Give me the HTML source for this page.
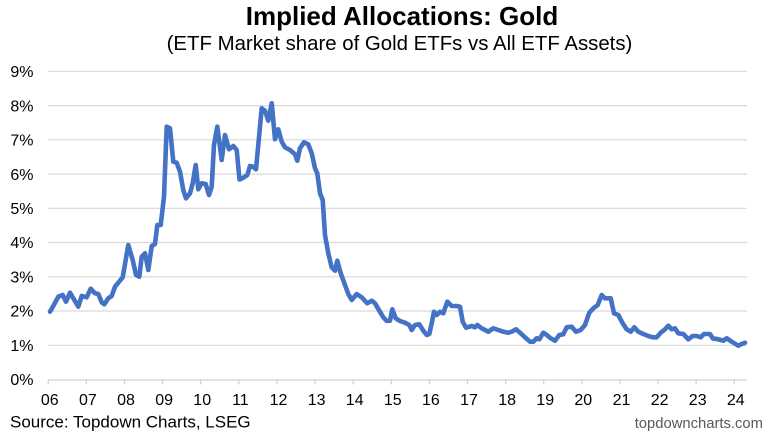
<!DOCTYPE html>
<html><head><meta charset="utf-8"><style>
html,body{margin:0;padding:0;background:#fff;}
svg{display:block;}
text{font-family:"Liberation Sans",Arial,sans-serif;}
</style></head><body>
<svg width="768" height="434" viewBox="0 0 768 434" xmlns="http://www.w3.org/2000/svg">
<rect width="768" height="434" fill="#fff"/>
<text x="402" y="25" font-size="26" font-weight="bold" text-anchor="middle" fill="#000">Implied Allocations: Gold</text>
<text x="399.5" y="50" font-size="20.4" text-anchor="middle" fill="#000">(ETF Market share of Gold ETFs vs All ETF Assets)</text>
<g stroke="#d9d9d9" stroke-width="1.2">
<line x1="48" x2="747" y1="345.3" y2="345.3"/>
<line x1="48" x2="747" y1="311" y2="311"/>
<line x1="48" x2="747" y1="276.8" y2="276.8"/>
<line x1="48" x2="747" y1="242.5" y2="242.5"/>
<line x1="48" x2="747" y1="208.3" y2="208.3"/>
<line x1="48" x2="747" y1="174.1" y2="174.1"/>
<line x1="48" x2="747" y1="139.8" y2="139.8"/>
<line x1="48" x2="747" y1="105.6" y2="105.6"/>
<line x1="48" x2="747" y1="71.3" y2="71.3"/>
</g>
<g stroke="#d0d0d0" stroke-width="1.2">
<line x1="48" x2="747" y1="380" y2="380"/>
<line x1="48.3" x2="48.3" y1="380" y2="384.5"/>
<line x1="86.4" x2="86.4" y1="380" y2="384.5"/>
<line x1="124.5" x2="124.5" y1="380" y2="384.5"/>
<line x1="162.6" x2="162.6" y1="380" y2="384.5"/>
<line x1="200.7" x2="200.7" y1="380" y2="384.5"/>
<line x1="238.9" x2="238.9" y1="380" y2="384.5"/>
<line x1="277" x2="277" y1="380" y2="384.5"/>
<line x1="315.1" x2="315.1" y1="380" y2="384.5"/>
<line x1="353.2" x2="353.2" y1="380" y2="384.5"/>
<line x1="391.3" x2="391.3" y1="380" y2="384.5"/>
<line x1="429.4" x2="429.4" y1="380" y2="384.5"/>
<line x1="467.5" x2="467.5" y1="380" y2="384.5"/>
<line x1="505.6" x2="505.6" y1="380" y2="384.5"/>
<line x1="543.7" x2="543.7" y1="380" y2="384.5"/>
<line x1="581.8" x2="581.8" y1="380" y2="384.5"/>
<line x1="620" x2="620" y1="380" y2="384.5"/>
<line x1="658.1" x2="658.1" y1="380" y2="384.5"/>
<line x1="696.2" x2="696.2" y1="380" y2="384.5"/>
<line x1="734.3" x2="734.3" y1="380" y2="384.5"/>
</g>
<g font-size="16" fill="#000" text-anchor="end">
<text x="33.5" y="385.2">0%</text>
<text x="33.5" y="351">1%</text>
<text x="33.5" y="316.7">2%</text>
<text x="33.5" y="282.5">3%</text>
<text x="33.5" y="248.2">4%</text>
<text x="33.5" y="214">5%</text>
<text x="33.5" y="179.8">6%</text>
<text x="33.5" y="145.5">7%</text>
<text x="33.5" y="111.3">8%</text>
<text x="33.5" y="77">9%</text>
</g>
<g font-size="16" fill="#000" text-anchor="middle">
<text x="49.8" y="405">06</text>
<text x="87.9" y="405">07</text>
<text x="126" y="405">08</text>
<text x="164.1" y="405">09</text>
<text x="202.2" y="405">10</text>
<text x="240.4" y="405">11</text>
<text x="278.5" y="405">12</text>
<text x="316.6" y="405">13</text>
<text x="354.7" y="405">14</text>
<text x="392.8" y="405">15</text>
<text x="430.9" y="405">16</text>
<text x="469" y="405">17</text>
<text x="507.1" y="405">18</text>
<text x="545.2" y="405">19</text>
<text x="583.3" y="405">20</text>
<text x="621.5" y="405">21</text>
<text x="659.6" y="405">22</text>
<text x="697.7" y="405">23</text>
<text x="735.8" y="405">24</text>
</g>
<polyline fill="none" stroke="#4472C4" stroke-width="4.6" stroke-linejoin="round" stroke-linecap="round" points="
50,311.7 53.3,306 58.3,296.7 62.7,295 66,301.7 70,292.7 78.3,306.7 81.7,296 86.7,297.3 90.7,288.7 95,293.3 98.3,294 101.7,302.3 104.3,304.3 108.3,298.3 111.7,296 115,286.7 118.3,282.7 122.7,277.3 128.3,245 132.7,260 136,275 139.3,276.7 141.7,256.7 145,253.3 148.3,270 151.7,246 155,244 157.3,225 160.7,225 164,196.7 166.7,126.7 170,128.3 173.3,161.7 176.7,162.7 180,171.7 183.3,190 186,198.3 190,193.3 192.7,183.3 195.7,165 198.3,189.3 201.7,183.3 205.7,184 209,195 211.7,186.7 214,145 217.3,126.7 221.7,160 225,135 229,149.3 233.3,146 236.7,150 239.5,179.5 244,177.3 247.3,175 250,166 253.3,166.7 256,169.3 261.7,108.3 265,110.7 268.3,120.7 271.7,103.3 275,139.3 278.3,129.3 281.7,141.7 285,147.3 290,150 295,154.3 297.3,160.7 300,148.3 304,142.3 308.3,144.3 311.7,153.3 315,168.3 317.3,173.3 320,193.3 322.7,200 325,235 328.3,253.3 331.7,267.3 335,270.7 337.3,260.7 340.7,273.3 345,285 348.3,294 351.7,300 356.7,294 361.7,297.3 367.3,303.3 371.7,300.7 375,303.3 379.3,310.7 383.3,317.3 386.7,321 390,320.7 392.3,309.3 395.7,318.3 400,321 405,322.7 409.3,325 411.7,330 415,325 419.3,324.3 423.3,330.7 426.7,335 429.3,334 431.7,323.3 434,311.7 436.7,315 440,311.7 443.3,313.3 447.3,301.7 451.7,306 456.7,306 460,306.7 462.7,321.7 466,327.7 471.7,326 475,327.3 477.3,325 481.7,328.3 488.3,331.7 493.3,328.3 498.3,330 503.3,331.7 508.3,332.7 511.7,331.7 516,329.3 520,332.7 525,337.3 530,341.7 533.3,341.7 536.7,338.3 539.3,339.3 543.3,332.7 546.7,335 550.7,338.3 555,340.7 559.3,335 563.3,334.3 566.7,327.3 571.7,326.7 576,331.7 580.7,330 585,325 589.3,312.7 593.3,308.3 597.7,305 601.7,295 605,298.3 610.7,298.3 614,313.3 618.3,315 622.7,323.3 626.7,329.3 630.7,331.7 634.3,327.3 638.3,331.7 643.3,334 648.3,336 652.7,337.3 656.7,337.3 660.7,332.7 665,329.3 668.3,325.7 671.7,329.3 675,328.3 678.3,333.3 683.3,334 688.3,339.3 692.7,336 696.7,336 700.7,337.3 704,334 710,334 712.7,338.3 718.3,339.3 723.3,340.7 726.7,338.3 731.7,341.7 738.3,345.7 741.7,344 745,342.7"/>
<text x="10" y="427.5" font-size="17" fill="#000">Source: Topdown Charts, LSEG</text>
<text x="763" y="428" font-size="14.8" fill="#595959" text-anchor="end">topdowncharts.com</text>
</svg>
</body></html>
